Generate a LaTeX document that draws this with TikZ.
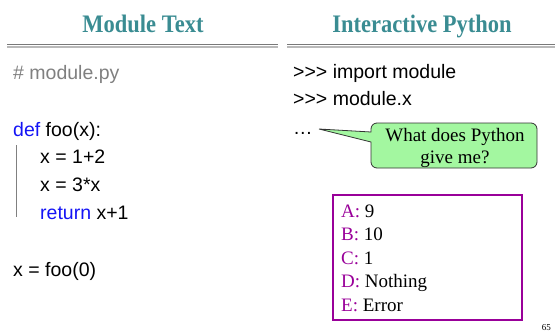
\documentclass[tikz,border=0pt]{standalone}
\usepackage{fontspec}
\setmainfont{Liberation Serif}
\newfontfamily\codefont{Liberation Sans}
\definecolor{titleteal}{RGB}{58,140,146}
\definecolor{codeblue}{RGB}{20,20,245}
\definecolor{commentgray}{RGB}{128,128,128}
\definecolor{calloutgreen}{RGB}{163,247,160}
\definecolor{answerpurple}{RGB}{153,0,153}
\begin{document}
\begin{tikzpicture}[x=1pt,y=-1pt,
  title/.style={anchor=base,inner sep=0pt,text=titleteal,font=\fontsize{22.5}{27}\selectfont\bfseries},
  code/.style={anchor=base west,inner sep=0pt,font=\codefont\fontsize{19.5}{23}\selectfont},
  kw/.style={text=codeblue},
  calltext/.style={anchor=base,inner sep=0pt,font=\fontsize{19}{22}\selectfont},
  answer/.style={anchor=base west,inner sep=0pt,font=\fontsize{19}{22}\selectfont},
  rulea/.style={draw=gray!95!black,line width=1.3pt},
  ruleb/.style={draw=gray!55,line width=1.3pt}]
\useasboundingbox (0,0) rectangle (555,333);
% titles
\node[title] (t1) at (143,32.5) {\scalebox{1}[1.12]{Module Text}};
\node[title] (t2) at (422,32.5) {\scalebox{1}[1.12]{Interactive Python}};
% double rules
\draw[rulea] (7,44.3) -- (278,44.3);
\draw[ruleb] (7,46.9) -- (278,46.9);
\draw[rulea] (287,44.3) -- (555,44.3);
\draw[ruleb] (287,46.9) -- (555,46.9);
% module code
\node[code,text=commentgray] (c0) at (13,79) {\# module.py};
\node[code] (c1) at (13,136) {\textcolor{codeblue}{def} foo(x):};
\node[code] (c2) at (40,163.5) {x = 1+2};
\node[code] (c3) at (40,191.5) {x = 3*x};
\node[code] (c4) at (40,219.5) {\textcolor{codeblue}{return} x+1};
\node[code] (c5) at (13,276) {x = foo(0)};
\draw[gray,line width=0.8pt] (16,145) -- (16,217);
% interactive
\node[code] (p1) at (293,78) {>>> import module};
\node[code] (p2) at (293,105) {>>> module.x};
\node[code] (p3) at (293,134) {\ldots};
% callout
\draw[fill=calloutgreen,draw=black!80,line width=0.8pt]
  (319,129) -- (371,132)
  {[rounded corners=6pt] -- (371,123) -- (537,123) -- (537,168) -- (371,168)}
  -- (371,142) -- cycle;
\node[calltext] (q1) at (455,141.7) {What does Python};
\node[calltext] (q2) at (455,163.2) {give me?};
% answers
\draw[answerpurple,line width=1.7pt] (333,195) rectangle (522,320);
\node[answer] (a) at (341,217) {\textcolor{answerpurple}{A:} 9};
\node[answer] (b) at (341,240.6) {\textcolor{answerpurple}{B:} 10};
\node[answer] (c) at (341,264.2) {\textcolor{answerpurple}{C:} 1};
\node[answer] (d) at (341,287.8) {\textcolor{answerpurple}{D:} Nothing};
\node[answer] (e) at (341,311.4) {\textcolor{answerpurple}{E:} Error};
% page number
\node[anchor=base east,inner sep=0pt,font=\fontsize{9}{10}\selectfont] (pg) at (551,330) {65};
\end{tikzpicture}
\end{document}
